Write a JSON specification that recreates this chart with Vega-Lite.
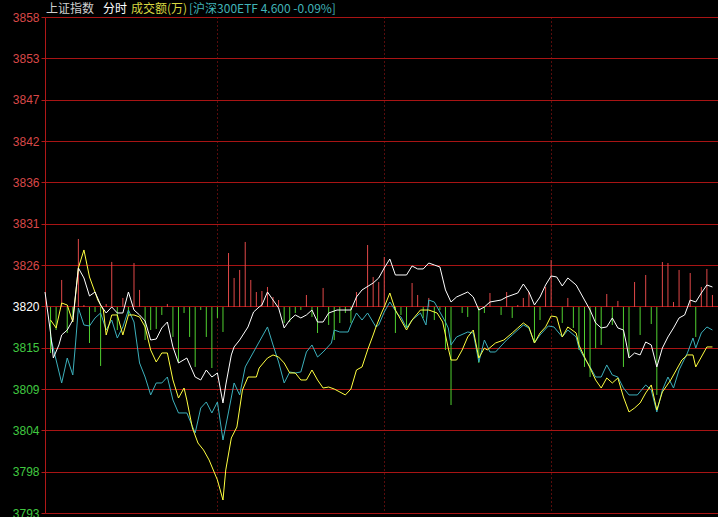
{
  "$schema": "https://vega.github.io/schema/vega-lite/v6.json",
  "width": 673,
  "height": 496,
  "autosize": "none",
  "padding": {"left": 45, "top": 17, "right": 0, "bottom": 4},
  "background": "#000000",
  "config": {
    "view": {"stroke": null},
    "axis": {"labelFont": "Liberation Sans", "labelFontSize": 12}
  },
  "datasets": {
    "white": [
      {"t":-2,"v":3821.96},{"t":0,"v":3816.59},{"t":1,"v":3813.31},{"t":3,"v":3815.02},{"t":4,"v":3816.33},{"t":6,"v":3816.98},{"t":8,"v":3818.29},{"t":10,"v":3825.11},{"t":12,"v":3823.8},{"t":14,"v":3821.44},{"t":16,"v":3821.96},{"t":18,"v":3820.26},{"t":20,"v":3819.21},{"t":22,"v":3820},{"t":24,"v":3819.21},{"t":26,"v":3819.21},{"t":28,"v":3821.96},{"t":30,"v":3819.6},{"t":32,"v":3818.95},{"t":34,"v":3818.16},{"t":36,"v":3815.67},{"t":38,"v":3815.8},{"t":40,"v":3817.25},{"t":42,"v":3818.03},{"t":44,"v":3814.76},{"t":46,"v":3812.66},{"t":49,"v":3813.31},{"t":52,"v":3810.82},{"t":54,"v":3810.43},{"t":56,"v":3811.74},{"t":58,"v":3810.82},{"t":60,"v":3811.35},{"t":62,"v":3807.42},{"t":63,"v":3809.78},{"t":65,"v":3813.71},{"t":66,"v":3814.76},{"t":68,"v":3815.67},{"t":71,"v":3817.38},{"t":73,"v":3819.34},{"t":75,"v":3820},{"t":76,"v":3820.26},{"t":78,"v":3821.96},{"t":80,"v":3820.91},{"t":82,"v":3819.87},{"t":84,"v":3817.25},{"t":86,"v":3818.29},{"t":88,"v":3818.95},{"t":90,"v":3818.56},{"t":92,"v":3818.95},{"t":94,"v":3819.6},{"t":96,"v":3818.03},{"t":98,"v":3818.03},{"t":100,"v":3819.21},{"t":103,"v":3819.6},{"t":108,"v":3819.6},{"t":110,"v":3821.31},{"t":112,"v":3822.23},{"t":116,"v":3823.14},{"t":118,"v":3823.8},{"t":120,"v":3825.11},{"t":122,"v":3826.29},{"t":124,"v":3824.19},{"t":128,"v":3824.19},{"t":130,"v":3825.37},{"t":132,"v":3824.98},{"t":134,"v":3824.98},{"t":136,"v":3825.76},{"t":138,"v":3825.5},{"t":140,"v":3825.24},{"t":142,"v":3822.23},{"t":144,"v":3820.65},{"t":146,"v":3821.31},{"t":150,"v":3821.96},{"t":152,"v":3821.31},{"t":154,"v":3819.6},{"t":156,"v":3820},{"t":158,"v":3820.65},{"t":162,"v":3820.91},{"t":164,"v":3821.31},{"t":168,"v":3821.83},{"t":170,"v":3823.01},{"t":172,"v":3821.96},{"t":174,"v":3820.26},{"t":176,"v":3821.31},{"t":178,"v":3822.88},{"t":180,"v":3824.06},{"t":182,"v":3823.93},{"t":184,"v":3822.75},{"t":186,"v":3823.8},{"t":189,"v":3822.88},{"t":191,"v":3821.57},{"t":192,"v":3820.91},{"t":194,"v":3819.6},{"t":196,"v":3817.9},{"t":198,"v":3817.25},{"t":200,"v":3817.38},{"t":202,"v":3818.56},{"t":204,"v":3817.25},{"t":206,"v":3816.98},{"t":207,"v":3815.28},{"t":208,"v":3813.31},{"t":210,"v":3813.97},{"t":212,"v":3813.71},{"t":214,"v":3815.41},{"t":216,"v":3815.02},{"t":218,"v":3812.14},{"t":220,"v":3814.62},{"t":222,"v":3816.07},{"t":224,"v":3817.25},{"t":226,"v":3818.56},{"t":228,"v":3818.95},{"t":230,"v":3820.91},{"t":232,"v":3820.65},{"t":234,"v":3821.83},{"t":236,"v":3822.88},{"t":238,"v":3822.62}
    ],
    "yellow": [
      {"t":0,"v":3818.29},{"t":2,"v":3817.25},{"t":4,"v":3820.52},{"t":6,"v":3820.26},{"t":8,"v":3818.03},{"t":10,"v":3825.11},{"t":12,"v":3827.47},{"t":14,"v":3823.93},{"t":17,"v":3820.91},{"t":19,"v":3819.6},{"t":20,"v":3816.33},{"t":22,"v":3818.95},{"t":24,"v":3818.95},{"t":26,"v":3816.33},{"t":28,"v":3818.95},{"t":30,"v":3818.95},{"t":32,"v":3818.69},{"t":34,"v":3817.38},{"t":36,"v":3814.36},{"t":38,"v":3812.79},{"t":40,"v":3813.97},{"t":42,"v":3813.97},{"t":44,"v":3810.43},{"t":46,"v":3808.07},{"t":48,"v":3809.38},{"t":49,"v":3807.81},{"t":51,"v":3804.14},{"t":53,"v":3802.17},{"t":55,"v":3801.26},{"t":57,"v":3799.95},{"t":60,"v":3797.33},{"t":62,"v":3794.7},{"t":63,"v":3798.64},{"t":65,"v":3802.83},{"t":67,"v":3804.27},{"t":69,"v":3809.12},{"t":71,"v":3810.82},{"t":74,"v":3810.82},{"t":75,"v":3812},{"t":78,"v":3813.31},{"t":80,"v":3813.71},{"t":82,"v":3813.44},{"t":84,"v":3812.66},{"t":86,"v":3811.35},{"t":88,"v":3811.35},{"t":90,"v":3810.43},{"t":92,"v":3810.43},{"t":94,"v":3811.74},{"t":96,"v":3810.43},{"t":98,"v":3809.38},{"t":100,"v":3809.51},{"t":102,"v":3809.25},{"t":106,"v":3808.47},{"t":108,"v":3809.25},{"t":110,"v":3811.74},{"t":112,"v":3812.14},{"t":114,"v":3814.36},{"t":116,"v":3816.33},{"t":117,"v":3817.38},{"t":119,"v":3819.21},{"t":120,"v":3820},{"t":122,"v":3821.83},{"t":124,"v":3819.6},{"t":126,"v":3818.29},{"t":128,"v":3816.98},{"t":130,"v":3818.29},{"t":133,"v":3819.6},{"t":136,"v":3819.6},{"t":139,"v":3819.21},{"t":141,"v":3818.03},{"t":143,"v":3814.62},{"t":144,"v":3813.05},{"t":146,"v":3813.05},{"t":148,"v":3814.36},{"t":150,"v":3816.07},{"t":152,"v":3816.98},{"t":154,"v":3813.31},{"t":156,"v":3814.62},{"t":157,"v":3814.36},{"t":160,"v":3815.28},{"t":163,"v":3815.67},{"t":166,"v":3816.59},{"t":168,"v":3817.25},{"t":170,"v":3817.9},{"t":172,"v":3817.38},{"t":174,"v":3815.28},{"t":176,"v":3816.59},{"t":178,"v":3817.38},{"t":180,"v":3818.82},{"t":182,"v":3818.69},{"t":184,"v":3816.07},{"t":186,"v":3817.38},{"t":189,"v":3816.59},{"t":190,"v":3815.02},{"t":192,"v":3813.44},{"t":194,"v":3812},{"t":196,"v":3810.43},{"t":198,"v":3809.38},{"t":200,"v":3810.69},{"t":202,"v":3810.04},{"t":204,"v":3810.69},{"t":206,"v":3808.2},{"t":208,"v":3806.24},{"t":210,"v":3806.76},{"t":212,"v":3807.42},{"t":214,"v":3808.73},{"t":216,"v":3809.78},{"t":218,"v":3806.5},{"t":220,"v":3808.86},{"t":223,"v":3810.43},{"t":225,"v":3811.74},{"t":227,"v":3813.05},{"t":229,"v":3813.71},{"t":231,"v":3813.71},{"t":232,"v":3812.14},{"t":234,"v":3813.44},{"t":236,"v":3814.76},{"t":238,"v":3814.76}
    ],
    "cyan": [
      {"t":0,"v":3816.07},{"t":2,"v":3813.05},{"t":4,"v":3810.04},{"t":6,"v":3813.31},{"t":8,"v":3811.09},{"t":9,"v":3815.28},{"t":10,"v":3819.87},{"t":12,"v":3817.64},{"t":14,"v":3817.51},{"t":16,"v":3818.56},{"t":18,"v":3819.21},{"t":20,"v":3816.98},{"t":22,"v":3818.29},{"t":24,"v":3815.93},{"t":26,"v":3817.38},{"t":28,"v":3819.6},{"t":30,"v":3818.03},{"t":32,"v":3812.66},{"t":34,"v":3810.82},{"t":36,"v":3808.47},{"t":38,"v":3810.04},{"t":40,"v":3810.04},{"t":42,"v":3810.82},{"t":44,"v":3807.81},{"t":46,"v":3806.11},{"t":49,"v":3806.11},{"t":52,"v":3803.49},{"t":54,"v":3806.76},{"t":56,"v":3807.55},{"t":58,"v":3806.11},{"t":60,"v":3807.55},{"t":62,"v":3802.57},{"t":64,"v":3806.24},{"t":66,"v":3810.04},{"t":68,"v":3808.47},{"t":70,"v":3812.14},{"t":74,"v":3814.76},{"t":76,"v":3816.07},{"t":78,"v":3817.38},{"t":80,"v":3815.02},{"t":82,"v":3812.79},{"t":84,"v":3810.04},{"t":86,"v":3811.48},{"t":88,"v":3811.35},{"t":90,"v":3811.48},{"t":92,"v":3814.1},{"t":94,"v":3815.02},{"t":96,"v":3813.44},{"t":98,"v":3814.1},{"t":101,"v":3815.28},{"t":102,"v":3816.98},{"t":104,"v":3816.72},{"t":107,"v":3816.72},{"t":108,"v":3817.64},{"t":110,"v":3819.21},{"t":112,"v":3818.29},{"t":114,"v":3819.21},{"t":117,"v":3817.38},{"t":118,"v":3817.64},{"t":120,"v":3819.34},{"t":122,"v":3820.65},{"t":125,"v":3818.95},{"t":126,"v":3818.69},{"t":128,"v":3817.25},{"t":130,"v":3818.29},{"t":133,"v":3819.21},{"t":135,"v":3817.64},{"t":136,"v":3820.91},{"t":138,"v":3820.65},{"t":140,"v":3819.34},{"t":142,"v":3818.03},{"t":143,"v":3817.25},{"t":144,"v":3815.02},{"t":146,"v":3816.07},{"t":150,"v":3816.72},{"t":152,"v":3816.59},{"t":154,"v":3812.79},{"t":156,"v":3815.67},{"t":158,"v":3814.1},{"t":160,"v":3814.1},{"t":164,"v":3815.67},{"t":166,"v":3816.33},{"t":170,"v":3817.64},{"t":172,"v":3817.25},{"t":174,"v":3815.28},{"t":176,"v":3816.33},{"t":179,"v":3817.51},{"t":181,"v":3817.38},{"t":184,"v":3816.07},{"t":186,"v":3816.98},{"t":189,"v":3816.07},{"t":190,"v":3814.62},{"t":192,"v":3813.31},{"t":194,"v":3812.14},{"t":196,"v":3810.82},{"t":198,"v":3810.82},{"t":200,"v":3812.4},{"t":202,"v":3811.09},{"t":204,"v":3810.82},{"t":206,"v":3809.38},{"t":208,"v":3808.47},{"t":211,"v":3808.47},{"t":214,"v":3809.78},{"t":216,"v":3809.12},{"t":218,"v":3806.24},{"t":220,"v":3809.12},{"t":222,"v":3810.82},{"t":224,"v":3809.38},{"t":226,"v":3811.74},{"t":229,"v":3813.97},{"t":231,"v":3815.93},{"t":232,"v":3814.62},{"t":234,"v":3816.59},{"t":236,"v":3817.38},{"t":238,"v":3816.98}
    ],
    "bars": [
      {"t":0,"v":3813.97},{"t":2,"v":3816.98},{"t":4,"v":3823.54},{"t":6,"v":3816.59},{"t":8,"v":3818.69},{"t":10,"v":3828.91},{"t":12,"v":3820.26},{"t":14,"v":3815.28},{"t":16,"v":3819.34},{"t":18,"v":3812.27},{"t":20,"v":3820.39},{"t":22,"v":3825.9},{"t":24,"v":3816.98},{"t":26,"v":3821.18},{"t":28,"v":3818.95},{"t":30,"v":3825.76},{"t":32,"v":3822.23},{"t":34,"v":3815.67},{"t":36,"v":3816.98},{"t":38,"v":3817.12},{"t":40,"v":3818.95},{"t":42,"v":3820.39},{"t":44,"v":3816.07},{"t":46,"v":3812.79},{"t":48,"v":3819.21},{"t":50,"v":3816.07},{"t":52,"v":3812.14},{"t":54,"v":3819.6},{"t":56,"v":3816.07},{"t":58,"v":3812},{"t":60,"v":3818.56},{"t":62,"v":3816.72},{"t":64,"v":3827.07},{"t":66,"v":3823.8},{"t":68,"v":3824.85},{"t":70,"v":3828.52},{"t":72,"v":3823.54},{"t":74,"v":3821.96},{"t":76,"v":3822.09},{"t":78,"v":3822.62},{"t":80,"v":3821.31},{"t":82,"v":3820.91},{"t":84,"v":3817.9},{"t":86,"v":3818.03},{"t":88,"v":3819.21},{"t":90,"v":3819.6},{"t":92,"v":3821.57},{"t":94,"v":3818.69},{"t":96,"v":3816.59},{"t":98,"v":3822.49},{"t":100,"v":3817.64},{"t":102,"v":3815.67},{"t":104,"v":3817.9},{"t":106,"v":3819.21},{"t":108,"v":3817.9},{"t":110,"v":3821.96},{"t":114,"v":3828.12},{"t":116,"v":3823.93},{"t":118,"v":3823.27},{"t":120,"v":3826.55},{"t":124,"v":3816.59},{"t":126,"v":3818.95},{"t":128,"v":3817.25},{"t":130,"v":3823.14},{"t":132,"v":3821.57},{"t":134,"v":3818.56},{"t":136,"v":3821.18},{"t":138,"v":3818.29},{"t":140,"v":3819.6},{"t":142,"v":3814.36},{"t":144,"v":3807.15},{"t":148,"v":3819.21},{"t":150,"v":3818.69},{"t":154,"v":3812.66},{"t":156,"v":3819.21},{"t":158,"v":3821.83},{"t":162,"v":3818.95},{"t":164,"v":3821.96},{"t":166,"v":3818.56},{"t":168,"v":3820.26},{"t":170,"v":3821.18},{"t":172,"v":3821.96},{"t":174,"v":3815.28},{"t":176,"v":3818.29},{"t":178,"v":3822.62},{"t":180,"v":3826.16},{"t":184,"v":3817.9},{"t":186,"v":3821.18},{"t":188,"v":3817.25},{"t":190,"v":3814.36},{"t":192,"v":3812.14},{"t":194,"v":3810.82},{"t":196,"v":3814.62},{"t":198,"v":3815.02},{"t":200,"v":3821.7},{"t":202,"v":3817.64},{"t":204,"v":3820.79},{"t":206,"v":3812.14},{"t":208,"v":3813.44},{"t":210,"v":3823.27},{"t":212,"v":3816.33},{"t":214,"v":3824.19},{"t":216,"v":3817.77},{"t":218,"v":3808.47},{"t":220,"v":3825.89},{"t":222,"v":3825.76},{"t":224,"v":3820.65},{"t":226,"v":3824.85},{"t":230,"v":3824.45},{"t":232,"v":3816.07},{"t":234,"v":3822.62},{"t":236,"v":3824.98},{"t":238,"v":3821.57}
    ]
  },
  "layer": [
    {
      "data": {"name": "bars"},
      "mark": {"type": "rule", "strokeWidth": 1},
      "encoding": {
        "x": {
          "field": "t", "type": "quantitative",
          "scale": {"domain": [-2, 240], "nice": false, "zero": false},
          "axis": {"values": [60, 120, 180], "grid": true, "gridDash": [1, 3], "gridColor": "#b01818", "gridWidth": 1, "labels": false, "ticks": false, "domain": false, "title": null}
        },
        "y": {
          "field": "v", "type": "quantitative",
          "scale": {"domain": [3793, 3858], "nice": false, "zero": false},
          "axis": {
            "values": [3793, 3798.417, 3803.833, 3809.25, 3814.667, 3820.083, 3825.5, 3830.917, 3836.333, 3841.75, 3847.167, 3852.583, 3858],
            "format": "d", "title": null,
            "grid": true, "gridColor": "#a81414", "gridWidth": 1,
            "domain": true, "domainColor": "#b01818", "domainWidth": 1,
            "ticks": true, "tickColor": "#b01818", "tickSize": 4,
            "labelPadding": 2,
            "labelColor": {"expr": "datum.value > 3821 ? '#d84848' : (datum.value < 3819 ? '#40c840' : '#ffffff')"}
          }
        },
        "y2": {"datum": 3820},
        "color": {"condition": {"test": "datum.v >= 3820", "value": "#e04848"}, "value": "#50d030"}
      }
    },
    {
      "mark": {"type": "rule", "color": "#c01818", "strokeWidth": 2},
      "encoding": {"y": {"datum": 3820}}
    },
    {
      "data": {"name": "cyan"},
      "mark": {"type": "line", "color": "#3cb0bc", "strokeWidth": 1},
      "encoding": {"x": {"field": "t", "type": "quantitative"}, "y": {"field": "v", "type": "quantitative"}}
    },
    {
      "data": {"name": "yellow"},
      "mark": {"type": "line", "color": "#ffff40", "strokeWidth": 1},
      "encoding": {"x": {"field": "t", "type": "quantitative"}, "y": {"field": "v", "type": "quantitative"}}
    },
    {
      "data": {"name": "white"},
      "mark": {"type": "line", "color": "#ffffff", "strokeWidth": 1},
      "encoding": {"x": {"field": "t", "type": "quantitative"}, "y": {"field": "v", "type": "quantitative"}}
    },
    {
      "data": {"values": [{"label": "上证指数"}]},
      "mark": {"type": "text", "align": "left", "baseline": "middle", "font": "Noto Sans CJK SC", "fontSize": 12, "color": "#d0d0d0"},
      "encoding": {"x": {"datum": -1.6}, "y": {"datum": 3859.1}, "text": {"field": "label"}}
    },
    {
      "data": {"values": [{"label": "分时"}]},
      "mark": {"type": "text", "align": "left", "baseline": "middle", "font": "Noto Sans CJK SC", "fontSize": 12, "color": "#ffffff"},
      "encoding": {"x": {"datum": 18.9}, "y": {"datum": 3859.1}, "text": {"field": "label"}}
    },
    {
      "data": {"values": [{"label": "成交额(万)"}]},
      "mark": {"type": "text", "align": "left", "baseline": "middle", "font": "Noto Sans CJK SC", "fontSize": 12, "color": "#d8d840"},
      "encoding": {"x": {"datum": 28.9}, "y": {"datum": 3859.1}, "text": {"field": "label"}}
    },
    {
      "data": {"values": [{"label": "[沪深300ETF 4.600 -0.09%]"}]},
      "mark": {"type": "text", "align": "left", "baseline": "middle", "font": "Noto Sans CJK SC", "fontSize": 12, "color": "#40b4b8"},
      "encoding": {"x": {"datum": 49.8}, "y": {"datum": 3859.1}, "text": {"field": "label"}}
    }
  ]
}
